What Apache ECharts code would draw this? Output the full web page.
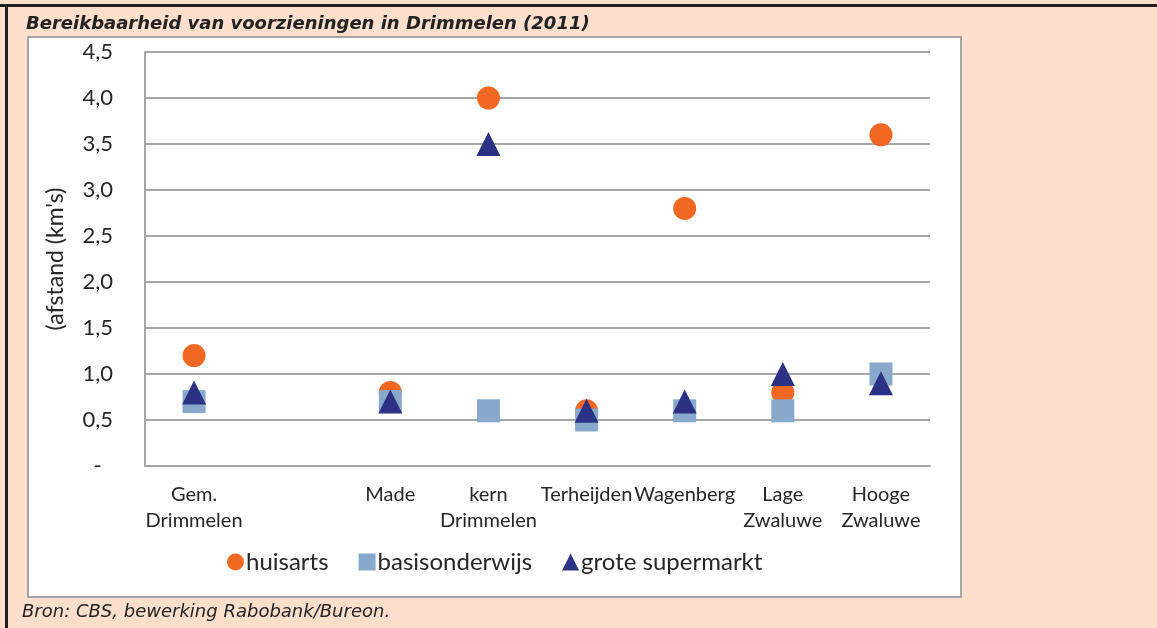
<!DOCTYPE html>
<html>
<head>
<meta charset="utf-8">
<script src="https://cdn.jsdelivr.net/npm/echarts@6/dist/echarts.min.js"></script>
<style>
  html, body { margin: 0; padding: 0; background: #FDDFCB; }
  #chart { width: 1157px; height: 628px; }
</style>
</head>
<body>
<div id="chart"></div>
<script>
// kernen (index 1 is an empty slot in the original)
let categories = ['Gem.\nDrimmelen', '', 'Made', 'kern\nDrimmelen', 'Terheijden', 'Wagenberg', 'Lage\nZwaluwe', 'Hooge\nZwaluwe']

let huisarts = [1.2, '-', 0.8, 4.0, 0.6, 2.8, 0.8, 3.6]
let basisonderwijs = [0.7, '-', 0.7, 0.6, 0.5, 0.6, 0.6, 1.0]
let supermarkt = [0.8, '-', 0.7, 3.5, 0.6, 0.7, 1.0, 0.9]

const chart = echarts.init(document.getElementById('chart'))

const labelFont = 'Lato, "Open Sans", sans-serif'

var option = {
    backgroundColor: '#FDDFCB',
    animation: false,
    title: {
        text: 'Bereikbaarheid van voorzieningen in Drimmelen (2011)',
        left: 21,
        top: 10,
        textStyle: {
            fontFamily: 'DejaVu Sans',
            fontStyle: 'italic',
            fontWeight: 'bold',
            fontSize: 18,
            color: '#222'
        }
    },
    graphic: [
        // black frame top + left
        { type: 'rect', shape: { x: 0, y: 4, width: 1157, height: 3 }, style: { fill: '#231F20' }, z: -1 },
        { type: 'rect', shape: { x: 5, y: 4, width: 3, height: 624 }, style: { fill: '#231F20' }, z: -1 },
        // white chart area
        {
            type: 'rect',
            shape: { x: 28, y: 37, width: 933, height: 560 },
            style: { fill: '#fff', stroke: '#A6A6A6', lineWidth: 2 },
            z: -1
        },
        {
            type: 'text',
            left: 22,
            top: 603,
            style: {
                text: 'Bron: CBS, bewerking Rabobank/Bureon.',
                font: 'italic 18px "DejaVu Sans"',
                fill: '#222'
            }
        }
    ],
    legend: {
        top: 545,
        left: 222,
        itemWidth: 17,
        itemHeight: 17,
        itemGap: 30,
        textStyle: {
            fontFamily: labelFont,
            fontSize: 24,
            color: '#262626',
            padding: [0, 0, 0, -3]
        },
        data: [
            { name: 'huisarts', icon: 'circle' },
            { name: 'basisonderwijs', icon: 'rect' },
            { name: 'grote supermarkt', icon: 'triangle' }
        ]
    },
    grid: {
        left: 145,
        top: 52,
        width: 785,
        height: 414
    },
    xAxis: {
        type: 'category',
        data: categories,
        axisLine: { lineStyle: { color: '#A6A6A6', width: 2 } },
        axisTick: { show: false },
        axisLabel: {
            interval: 0,
            margin: 16,
            fontFamily: labelFont,
            fontSize: 20,
            lineHeight: 26,
            color: '#262626'
        }
    },
    yAxis: {
        type: 'value',
        min: 0,
        max: 4.5,
        interval: 0.5,
        name: "(afstand (km's)",
        nameLocation: 'middle',
        nameGap: 78,
        nameTextStyle: {
            fontFamily: labelFont,
            fontSize: 23,
            color: '#262626'
        },
        axisLine: { show: true, lineStyle: { color: '#A6A6A6', width: 2 } },
        axisTick: { show: false },
        splitLine: { lineStyle: { color: '#A6A6A6', width: 2 } },
        axisLabel: {
            margin: 32,
            fontFamily: labelFont,
            fontSize: 22,
            color: '#262626',
            formatter: function (v) {
                if (v === 0) return '-  '
                return v.toFixed(1).replace('.', ',')
            }
        }
    },
    series: [
        {
            name: 'huisarts',
            type: 'scatter',
            symbol: 'circle',
            symbolSize: 23,
            itemStyle: { color: '#F26722', opacity: 1 },
            data: huisarts
        },
        {
            name: 'basisonderwijs',
            type: 'scatter',
            symbol: 'rect',
            symbolSize: 23,
            itemStyle: { color: '#89A9CC', opacity: 1 },
            data: basisonderwijs
        },
        {
            name: 'grote supermarkt',
            type: 'scatter',
            symbol: 'triangle',
            symbolSize: 24,
            itemStyle: { color: '#2B3283', opacity: 1 },
            data: supermarkt
        }
    ]
}

chart.setOption(option)
</script>
</body>
</html>
